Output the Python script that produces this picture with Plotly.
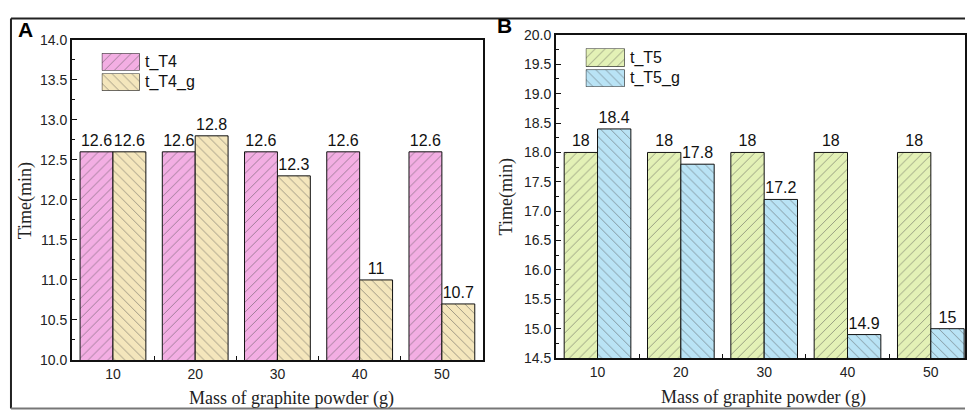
import plotly.graph_objects as go

# Data
mass = ["10", "20", "30", "40", "50"]
t_T4 = [12.6, 12.6, 12.6, 12.6, 12.6]
t_T4_g = [12.6, 12.8, 12.3, 11, 10.7]
t_T5 = [18, 18, 18, 18, 18]
t_T5_g = [18.4, 17.8, 17.2, 14.9, 15]

W, H = 967, 418
PINK, TAN, GREEN, BLUE = "#F3AEE3", "#F4E6BC", "#E3F1B6", "#B9E3F5"
HATCH = "#4a4a4a"


def px_x(x):
    return x / W


def px_y(y):
    return (H - y) / H


def pattern(shape, fill):
    return dict(shape=shape, fgcolor=HATCH, bgcolor=fill, size=7,
                solidity=0.14, fillmode="overlay")


def bar(name, y, shape, fill, xa, ya):
    return go.Bar(
        x=mass, y=y, name=name, xaxis=xa, yaxis=ya,
        marker=dict(color=fill, pattern=pattern(shape, fill),
                    line=dict(color="#111", width=1)),
        text=[f"{v:g}" for v in y], texttemplate="%{text}", textposition="outside",
        textfont=dict(family="Arial", size=16, color="#111"),
        cliponaxis=False, showlegend=False,
    )


fig = go.Figure()
fig.add_trace(bar("t_T4", t_T4, "/", PINK, "x", "y"))
fig.add_trace(bar("t_T4_g", t_T4_g, "\\", TAN, "x", "y"))
fig.add_trace(bar("t_T5", t_T5, "/", GREEN, "x2", "y2"))
fig.add_trace(bar("t_T5_g", t_T5_g, "\\", BLUE, "x2", "y2"))

# Legend swatches: one patterned bar per small helper axis
# (name, shape, fill, left, right, top, bottom) in pixels
swatches = [
    ("t_T4", "/", PINK, 102, 140, 47, 65),
    ("t_T4_g", "\\", TAN, 102, 140, 68, 86),
    ("t_T5", "/", GREEN, 587, 626, 42, 61),
    ("t_T5_g", "\\", BLUE, 587, 626, 64, 82),
]
axes_layout = {}
for i, (name, shape, fill, l, r, t, b) in enumerate(swatches):
    n = i + 3
    fig.add_trace(go.Bar(
        x=[name], y=[1], width=0.999, xaxis=f"x{n}", yaxis=f"y{n}",
        marker=dict(color=fill, pattern=pattern(shape, fill),
                    line=dict(color="#111", width=1)),
        showlegend=False, hoverinfo="skip",
    ))
    axes_layout[f"xaxis{n}"] = dict(domain=[px_x(l), px_x(r)], anchor=f"y{n}",
                                    range=[-0.5, 0.5], visible=False)
    axes_layout[f"yaxis{n}"] = dict(domain=[px_y(b), px_y(t)], anchor=f"x{n}",
                                    range=[0, 1], visible=False)

tickfont = dict(family="Arial", size=14, color="#222")
common_y = dict(showline=True, linecolor="#111", linewidth=1.5, mirror=True,
                ticks="inside", ticklen=5, tickcolor="#111", tickfont=tickfont,
                showgrid=False, zeroline=False, dtick=0.5, tickformat=".1f",
                minor=dict(dtick=0.25, ticks="inside", ticklen=3, tickcolor="#111"))
common_x = dict(showline=True, linecolor="#111", linewidth=1.5, mirror=True,
                ticks="inside", ticklen=4, tickcolor="#111", tickson="boundaries",
                tickfont=tickfont, showgrid=False, zeroline=False, type="category")

fig.update_layout(
    width=W, height=H, margin=dict(l=0, r=0, t=0, b=0),
    paper_bgcolor="white", plot_bgcolor="white",
    barmode="group", bargap=0.2, bargroupgap=0,
    xaxis=dict(domain=[px_x(72), px_x(484)], anchor="y", range=[-0.5, 4.5], **common_x),
    yaxis=dict(domain=[px_y(366), px_y(33)], anchor="x", range=[10, 14], **common_y),
    xaxis2=dict(domain=[px_x(557), 1.0], anchor="y2", range=[-0.5, 4.41], **common_x),
    yaxis2=dict(domain=[px_y(364), px_y(28)], anchor="x2", range=[14.5, 20], **common_y),
    **axes_layout,
)

serif = dict(family="Liberation Serif, Times New Roman, serif", size=18, color="#222")
legfont = dict(family="Arial", size=16, color="#111")
ann = [
    # panel letters
    dict(x=px_x(16), y=px_y(22), text="<b>A</b>", font=dict(family="Arial", size=21, color="#000")),
    dict(x=px_x(496), y=px_y(18), text="<b>B</b>", font=dict(family="Arial", size=21, color="#000")),
]
for name, shape, fill, l, r, t, b in swatches:
    ann.append(dict(x=px_x(r + 3), y=px_y((t + b) / 2), text=name, font=legfont))
for a in ann:
    a.update(xref="paper", yref="paper", xanchor="left", yanchor="middle", showarrow=False)

titles = [
    dict(x=px_x(292), y=px_y(406), text="Mass of graphite powder (g)", textangle=0),
    dict(x=px_x(765), y=px_y(405), text="Mass of graphite powder (g)", textangle=0),
    dict(x=px_x(25), y=px_y(200), text="Time(min)", textangle=-90),
    dict(x=px_x(508), y=px_y(196), text="Time(min)", textangle=-90),
]
for t in titles:
    t.update(xref="paper", yref="paper", xanchor="center", yanchor="middle",
             showarrow=False, font=serif)

fig.update_layout(annotations=ann + titles)

# Outer frame around the figure panels
fig.add_shape(type="line", xref="paper", yref="paper",
              x0=px_x(11), x1=1.0, y0=px_y(11), y1=px_y(11),
              line=dict(color="#222", width=2))
fig.add_shape(type="line", xref="paper", yref="paper",
              x0=px_x(11), x1=px_x(11), y0=px_y(11), y1=px_y(416.5),
              line=dict(color="#222", width=2))
fig.add_shape(type="line", xref="paper", yref="paper",
              x0=px_x(11), x1=1.0, y0=px_y(416.5), y1=px_y(416.5),
              line=dict(color="#777", width=2))

fig.write_html("out.html")
